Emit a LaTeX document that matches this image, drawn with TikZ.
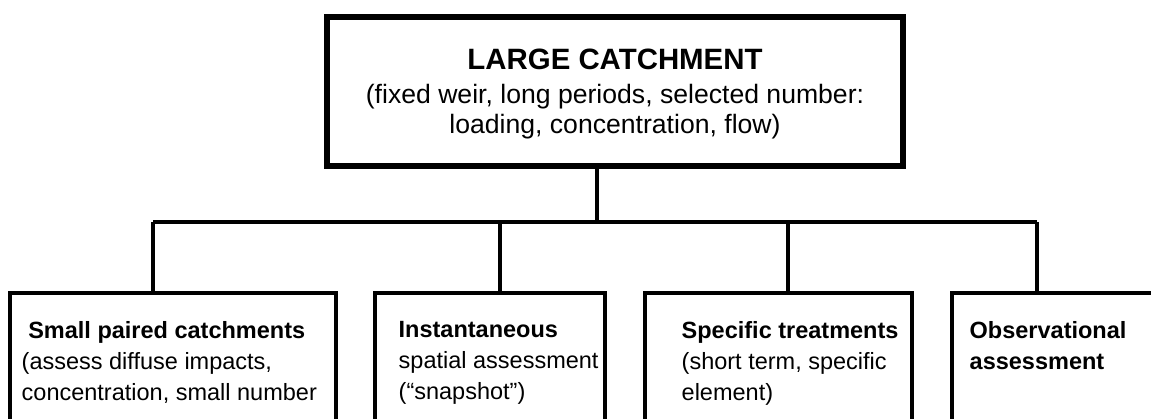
\documentclass[tikz,border=0pt]{standalone}
\usepackage{fontspec}
\setmainfont{Liberation Sans}
\usetikzlibrary{positioning}

\tikzset{
  topbox/.style={draw, line width=3pt, minimum width=288pt, minimum height=74.5pt,
                 inner sep=0pt, align=center, text depth=0pt,
                 font=\fontsize{13.3}{13.5}\selectfont},
  subbox/.style={draw, line width=1.7pt, inner sep=0pt, minimum height=80pt},
  subtext/.style={anchor=north west, inner sep=0pt, align=left,
                  font=\fontsize{11.75}{13.75}\selectfont},
  link/.style={line width=1.7pt}
}

\begin{document}
\begin{tikzpicture}[x=0.5pt, y=-0.5pt]
  \clip (0,0) rectangle (1151,418);
  \fill[white] (0,0) rectangle (1151,418);

  % main box
  \node[topbox] (large) at (615,91.5)
    {{\fontsize{14.7}{16}\selectfont\bfseries LARGE CATCHMENT}\\[3.5pt]
     (fixed weir, long periods, selected number:\\[1.5pt]
     loading, concentration, flow)};

  % lower boxes (run off the page at the bottom)
  \node[subbox, minimum width=163pt] (paired) at (173,373) {};
  \node[subbox, minimum width=115pt] (instant) at (490,373) {};
  \node[subbox, minimum width=133.5pt] (treat) at (778.5,373) {};
  \node[subbox, minimum width=119pt] (observ) at (1071,373) {};

  \node[subtext] (paired-txt) at ([xshift=6.5pt, yshift=-15pt]paired.north west)
    {\hspace*{3.3pt}\textbf{Small paired catchments}\\[1.75pt]
     (assess diffuse impacts,\\[1.75pt]
     concentration, small number};
  \node[subtext] (instant-txt) at ([xshift=12.5pt, yshift=-15pt]instant.north west)
    {\textbf{Instantaneous}\\[1.75pt]
     spatial assessment\\[1.75pt]
     (“snapshot”)};
  \node[subtext] (treat-txt) at ([xshift=19pt, yshift=-15pt]treat.north west)
    {\textbf{Specific treatments}\\[1.75pt]
     (short term, specific\\[1.75pt]
     element)};
  \node[subtext] (observ-txt) at ([xshift=9.5pt, yshift=-15pt]observ.north west)
    {\textbf{Observational}\\[1.75pt]
     \textbf{assessment}};

  % connectors
  \coordinate (trunk) at (597,222);
  \coordinate (busL) at (153,222);
  \coordinate (tap2) at (500,222);
  \coordinate (tap3) at (788,222);
  \coordinate (busR) at (1037,222);

  \draw[link] (trunk |- large.south) -- (trunk);
  \draw[link] (busL) -- (busR);
  \draw[link, shorten >=-2pt] (busL) -- (busL |- paired.north);
  \draw[link, shorten >=-2pt] (tap2) -- (tap2 |- instant.north);
  \draw[link, shorten >=-2pt] (tap3) -- (tap3 |- treat.north);
  \draw[link, shorten >=-2pt] (busR) -- (busR |- observ.north);
\end{tikzpicture}
\end{document}
